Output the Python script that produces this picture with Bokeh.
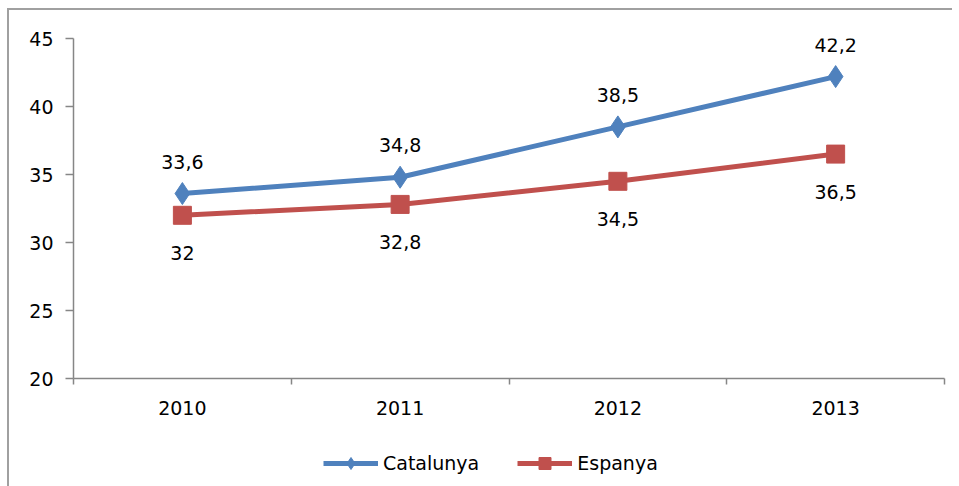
from bokeh.plotting import figure
from bokeh.models import ColumnDataSource, FixedTicker, Legend, LegendItem
from bokeh.layouts import column
from bokeh.core.properties import value
from bokeh.embed import file_html
from bokeh.resources import INLINE

years = ["2010", "2011", "2012", "2013"]
catalunya = [33.6, 34.8, 38.5, 42.2]
espanya = [32.0, 32.8, 34.5, 36.5]
y_ticks = [20, 25, 30, 35, 40, 45]
series_names = ["Catalunya", "Espanya"]

def fmt(v):
    s = ("%.1f" % v).rstrip("0").rstrip(".")
    return s.replace(".", ",")

xs = [i + 0.5 for i in range(len(years))]
src_c = ColumnDataSource(dict(x=xs, y=catalunya, lab=[fmt(v) for v in catalunya]))
src_e = ColumnDataSource(dict(x=xs, y=espanya, lab=[fmt(v) for v in espanya]))

FONT = "DejaVu Sans"
BLUE = "#4F81BD"
RED = "#C0504D"
AXIS = "#868686"
FS = "19px"

p = figure(width=943, height=428, output_backend="svg", toolbar_location=None,
           x_range=(0, len(years)), y_range=(20, 45),
           min_border_left=64, min_border_right=8, min_border_top=28, min_border_bottom=60)
p.outline_line_color = None
p.grid.visible = False
p.background_fill_color = "white"
p.border_fill_color = "white"

# x axis: labels at category centers, ticks at boundaries
p.xaxis.ticker = FixedTicker(ticks=xs, minor_ticks=list(range(len(years) + 1)))
p.xaxis.major_label_overrides = {x: y for x, y in zip(xs, years)}
p.xaxis.major_tick_out = 0
p.xaxis.major_tick_in = 0
p.xaxis.minor_tick_out = 6
p.xaxis.minor_tick_in = 0
p.xaxis.major_label_standoff = 16

p.yaxis.ticker = FixedTicker(ticks=y_ticks)
p.yaxis.major_tick_out = 8
p.yaxis.major_tick_in = 0
p.yaxis.minor_tick_out = 0
p.yaxis.minor_tick_in = 0
p.yaxis.major_label_standoff = 12

for ax in (p.xaxis, p.yaxis):
    ax.axis_line_color = AXIS
    ax.axis_line_width = 1.5
    ax.major_tick_line_color = AXIS
    ax.minor_tick_line_color = AXIS
    ax.major_tick_line_width = 1.5
    ax.minor_tick_line_width = 1.5
    ax.major_label_text_font = FONT
    ax.major_label_text_font_size = FS
    ax.major_label_text_color = "black"

p.line("x", "y", source=src_c, line_color=BLUE, line_width=5)
p.scatter("x", "y", source=src_c, marker="diamond", size=22, fill_color=BLUE, line_color=BLUE)
p.line("x", "y", source=src_e, line_color=RED, line_width=5)
p.scatter("x", "y", source=src_e, marker="square", size=18, fill_color=RED, line_color=RED)

p.text("x", "y", text="lab", source=src_c, y_offset=-32, text_align="center",
       text_baseline="middle", text_font=value(FONT), text_font_size=FS, text_color="black")
p.text("x", "y", text="lab", source=src_e, y_offset=38, text_align="center",
       text_baseline="middle", text_font=value(FONT), text_font_size=FS, text_color="black")

# legend in its own strip below the chart (series drawn outside this strip's view)
lg = figure(width=943, height=48, output_backend="svg", toolbar_location=None,
            x_axis_type=None, y_axis_type=None, min_border=0,
            x_range=(0, len(years)), y_range=(0, 1))
lg.outline_line_color = None
lg.grid.visible = False
l1 = lg.line("x", "y", source=src_c, line_color=BLUE, line_width=5)
m1 = lg.scatter("x", "y", source=src_c, marker="diamond", size=15,
                fill_color=BLUE, line_color=BLUE)
l2 = lg.line("x", "y", source=src_e, line_color=RED, line_width=5)
m2 = lg.scatter("x", "y", source=src_e, marker="square", size=12,
                fill_color=RED, line_color=RED)
legend = Legend(items=[LegendItem(label=series_names[0], renderers=[l1, m1]),
                       LegendItem(label=series_names[1], renderers=[l2, m2])],
                orientation="horizontal", location=(250, 8),
                glyph_width=55, glyph_height=30, label_standoff=5, spacing=38,
                label_text_font=FONT, label_text_font_size=FS, label_text_color="black",
                border_line_color=None, background_fill_alpha=0,
                padding=0, margin=0)
lg.add_layout(legend, "center")

layout = column(p, lg, spacing=0)
layout.styles = {"border-left": "2px solid #A0A0A0", "border-top": "2px solid #A0A0A0",
                 "margin-left": "7px", "margin-top": "8px"}

open("out.html", "w").write(file_html(layout, INLINE))
